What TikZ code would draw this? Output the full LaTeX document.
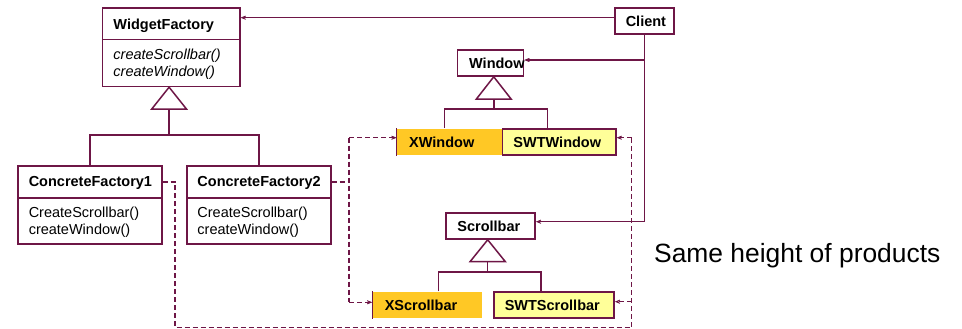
\documentclass[tikz,border=0pt]{standalone}
\usepackage{fontspec}
\setmainfont{Liberation Sans}
\usetikzlibrary{arrows.meta,calc}
\definecolor{ln}{RGB}{110,22,70}
\definecolor{orng}{RGB}{255,200,37}
\definecolor{ylw}{RGB}{255,255,153}
\tikzset{
  cbox/.style n args={3}{draw=ln, line width=1.5pt, anchor=north west,
    minimum width=#1, minimum height=#2, inner xsep=#3, inner ysep=0pt,
    text width=#1-2*#3, align=left, text height=10.4pt, text depth=0pt,
    font=\fontsize{14.5}{17.3}\selectfont\bfseries},
  mbox/.style n args={3}{cbox={#1}{#2}{#3}, text depth=17.3pt,
    font=\fontsize{14.5}{17.3}\selectfont},
  lnk/.style={draw=ln, line width=1.5pt},
  arr/.style={lnk, -{Stealth[length=10pt,width=8pt,inset=7pt]}},
  darr/.style={arr, dash pattern=on 5pt off 3pt},
  dln/.style={lnk, dash pattern=on 5pt off 3pt},
  inh/.style={lnk, fill=white},
}
\begin{document}
\begin{tikzpicture}[x=1pt,y=-1pt]
\useasboundingbox (0,0) rectangle (962,329);
% abstract factory
\node[cbox={137.3pt}{31.7pt}{11pt}] (wf) at (101.7,7.3) {WidgetFactory};
\node[mbox={137.3pt}{46.7pt}{11pt}, font=\fontsize{14.5}{17.3}\selectfont\itshape] (wfm) at (101.7,39) {createScrollbar()\\createWindow()};
\node[cbox={144pt}{32pt}{11pt}] (cf1) at (17,165) {ConcreteFactory1};
\node[mbox={144pt}{46pt}{11pt}] (cf1m) at (17,197) {CreateScrollbar()\\createWindow()};
\node[cbox={144pt}{32pt}{10.7pt}] (cf2) at (186,165) {ConcreteFactory2};
\node[mbox={144pt}{46pt}{10.7pt}] (cf2m) at (186,197) {CreateScrollbar()\\createWindow()};
% client
\node[cbox={59pt}{26pt}{11pt}] (client) at (614,7.3) {Client};
% window products
\node[cbox={66pt}{26pt}{11.7pt}] (window) at (456.7,49.3) {Window};
\node[cbox={105pt}{26.3pt}{11.7pt}, draw=none, fill=orng] (xwin) at (396.7,128) {XWindow};
\node[cbox={113.3pt}{26.3pt}{11pt}, fill=ylw] (swtwin) at (501.7,128) {SWTWindow};
% scrollbar products
\node[cbox={89.3pt}{26pt}{11.7pt}] (scroll) at (445,212.3) {Scrollbar};
\node[cbox={109.4pt}{26pt}{11.7pt}, draw=none, fill=orng] (xscroll) at (372.3,291.3) {XScrollbar};
\node[cbox={120pt}{26pt}{10.7pt}, fill=ylw] (swtscroll) at (493.3,291.3) {SWTScrollbar};
\draw[draw=ln, line width=0.7pt] (xwin.north west) -- (xwin.south west);
\draw[draw=ln, line width=0.7pt] (xscroll.north west) -- (xscroll.south west);
% note
\node[anchor=base west, inner sep=0pt, font=\fontsize{26.4}{30}\selectfont] (note) at (654,262) {Same height of products};
% inheritance: factory
\coordinate (t1) at ($(wfm.south)+(-2,0)$);
\draw[inh] (t1) -- ++(17.5,22) -- ++(-35,0) -- cycle;
\draw[lnk] ($(t1)+(0,22)$) -- ++(0,26) coordinate (j1);
\draw[lnk] (cf1.north) |- (j1) -| (cf2.north);
% inheritance: window
\coordinate (t2) at ($(window.south)+(3.3,0)$);
\draw[inh] (t2) -- ++(17.5,22.4) -- ++(-35,0) -- cycle;
\draw[lnk] ($(t2)+(0,22.4)$) -- ++(0,9.6) coordinate (j2);
\draw[lnk] ($(xwin.north west)+(48,0)$) |- (j2) -| ($(swtwin.north west)+(45.6,0)$);
% inheritance: scrollbar
\coordinate (t3) at ($(scroll.south)+(-2.7,0)$);
\draw[inh] (t3) -- ++(17.5,21.7) -- ++(-35,0) -- cycle;
\draw[lnk] ($(t3)+(0,21.7)$) -- ++(0,10.7) coordinate (j3);
\draw[lnk] ($(xscroll.north west)+(66.4,0)$) |- (j3) -| ($(swtscroll.north west)+(47.7,0)$);
% client associations
\draw[arr] ($(client.north west)+(0,10.4)$) -- ($(wf.north east)+(0,10.4)$);
\draw[arr] (client.south) |- ($(window.north east)+(0,10.7)$);
\draw[arr] (client.south) |- ($(scroll.north east)+(0,9.4)$);
% creates (dashed)
\coordinate (xwt) at ($(xwin.north west)+(0,9.7)$);
\coordinate (xst) at ($(xscroll.north west)+(0,11)$);
\draw[dln] (cf2.east) -- ++(17.7,0) coordinate (d2);
\coordinate (d2u) at (d2 |- xwt);
\coordinate (d2d) at (d2 |- xst);
\draw[dln] (d2u) -- (d2d);
\draw[darr] (d2u) -- (xwt);
\draw[darr] (d2d) -- (xst);
\coordinate (swt) at ($(swtwin.north east)+(0,9.7)$);
\coordinate (sst) at ($(swtscroll.north east)+(0,10.4)$);
\coordinate (c1) at (631.7,327.7);
\coordinate (c2) at (c1 |- swt);
\coordinate (c3) at (c1 |- sst);
\draw[dln] (cf1.east) -- ++(12.3,0) |- (c1) -- (c2);
\draw[darr] (c2) -- (swt);
\draw[darr] (c3) -- (sst);
\end{tikzpicture}
\end{document}
